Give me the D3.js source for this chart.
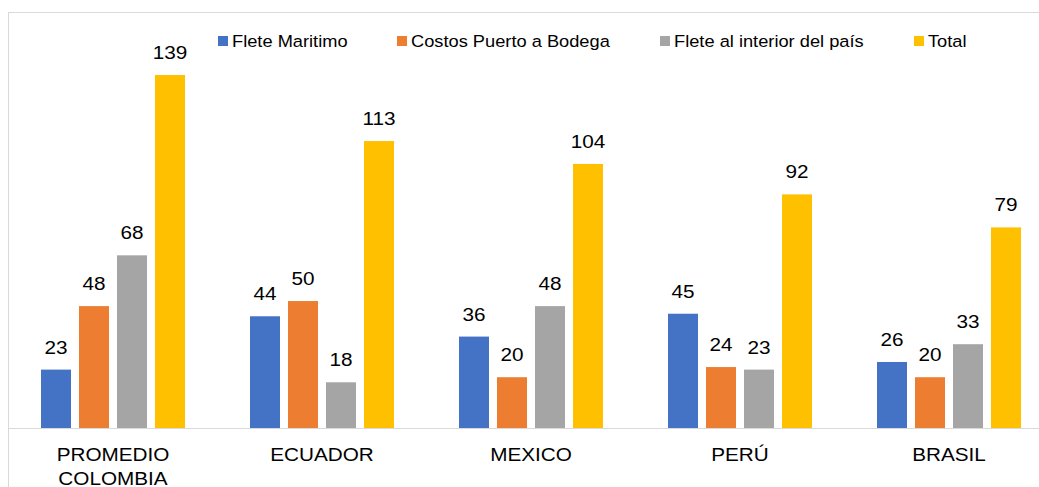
<!DOCTYPE html>
<html>
<head>
  <meta charset="utf-8">
  <script src="https://d3js.org/d3.v7.min.js"></script>
  <style>
    body { margin: 0; background: #fff; }
    text { font-family: "Liberation Sans", Arial, sans-serif; fill: #000; }
  </style>
</head>
<body>
  <script>
    var categories = [["PROMEDIO", "COLOMBIA"], ["ECUADOR"], ["MEXICO"], ["PERÚ"], ["BRASIL"]];
    var seriesNames = ["Flete Maritimo", "Costos Puerto a Bodega", "Flete al interior del país", "Total"];
    var seriesColors = ["#4472C4", "#ED7D31", "#A5A5A5", "#FFC000"];
    var fleteMaritimo = [23, 44, 36, 45, 26];
    var costosPuerto = [48, 50, 20, 24, 20];
    var fleteInterior = [68, 18, 48, 23, 33];
    var total = [139, 113, 104, 92, 79];
    var seriesValues = [fleteMaritimo, costosPuerto, fleteInterior, total];

    var width = 1039, height = 487;
    var stretch = 1.12; // text in the picture is a bit wider than normal

    var svg = d3.select("body").append("svg")
        .attr("width", width)
        .attr("height", height);

    // chart border (runs off the right and bottom edges)
    svg.append("rect")
        .attr("x", 8.5).attr("y", 12.5)
        .attr("width", width + 20).attr("height", height + 20)
        .attr("fill", "none")
        .attr("stroke", "#d9d9d9");

    var x0 = d3.scaleBand()
        .domain(d3.range(categories.length))
        .range([8.5, 1053.5]);

    var x1 = d3.scaleBand()
        .domain(d3.range(seriesNames.length))
        .range([-72, 72])
        .paddingInner(8 / 38);

    var y = d3.scaleLinear()
        .domain([0, 140])
        .range([428, 72.5]);

    var groups = svg.append("g").selectAll("g")
        .data(categories)
        .enter().append("g")
        .attr("transform", function(d, i) { return "translate(" + (x0(i) + x0.bandwidth() / 2) + ",0)"; });

    groups.selectAll("rect")
        .data(function(d, i) { return seriesValues.map(function(s, k) { return {k: k, v: s[i]}; }); })
        .enter().append("rect")
        .attr("x", function(d) { return x1(d.k); })
        .attr("y", function(d) { return y(d.v); })
        .attr("width", x1.bandwidth())
        .attr("height", function(d) { return y(0) - y(d.v); })
        .attr("fill", function(d) { return seriesColors[d.k]; });

    groups.selectAll("text.val")
        .data(function(d, i) { return seriesValues.map(function(s, k) { return {k: k, v: s[i]}; }); })
        .enter().append("text")
        .attr("class", "val")
        .attr("transform", function(d) {
          return "translate(" + (x1(d.k) + x1.bandwidth() / 2) + "," + (y(d.v) - 16) + ") scale(" + stretch + ",1)";
        })
        .attr("text-anchor", "middle")
        .style("font-size", "18.5px")
        .text(function(d) { return d.v; });

    // baseline
    svg.append("line")
        .attr("x1", 9).attr("x2", width)
        .attr("y1", y(0) + 0.5).attr("y2", y(0) + 0.5)
        .attr("stroke", "#d9d9d9");

    // category labels
    var catLabels = groups.append("text")
        .attr("transform", "translate(0,461) scale(" + stretch + ",1)")
        .attr("text-anchor", "middle")
        .style("font-size", "18.5px");
    catLabels.selectAll("tspan")
        .data(function(d) { return d; })
        .enter().append("tspan")
        .attr("x", 0)
        .attr("dy", function(d, i) { return i === 0 ? 0 : 24; })
        .text(function(d) { return d; });

    // legend
    var legendX = [218, 397, 660, 914];
    var legend = svg.append("g").selectAll("g")
        .data(seriesNames)
        .enter().append("g")
        .attr("transform", function(d, i) { return "translate(" + legendX[i] + ",36)"; });
    legend.append("rect")
        .attr("width", 10).attr("height", 10)
        .attr("fill", function(d, i) { return seriesColors[i]; });
    legend.append("text")
        .attr("transform", "translate(14,10.7) scale(" + stretch + ",1)")
        .style("font-size", "16.3px")
        .text(function(d) { return d; });
  </script>
</body>
</html>
